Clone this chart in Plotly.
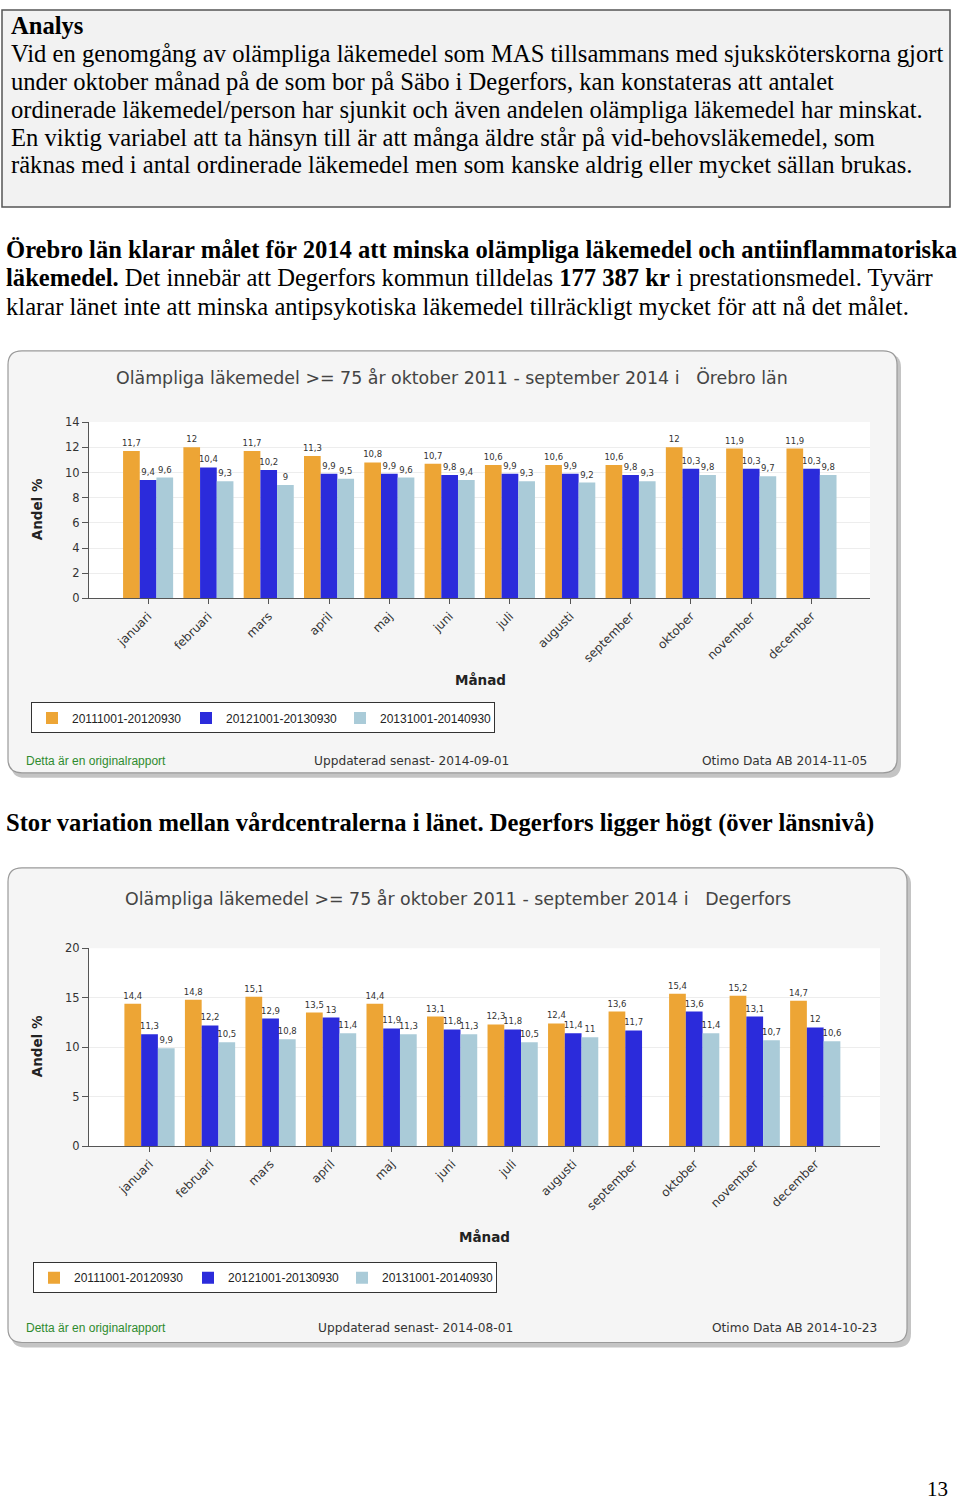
import plotly.graph_objects as go

# ---------------- data ----------------
months = ["januari", "februari", "mars", "april", "maj", "juni", "juli",
          "augusti", "september", "oktober", "november", "december"]
series_names = ["20111001-20120930", "20121001-20130930", "20131001-20140930"]

orebro_p1 = [11.7, 12, 11.7, 11.3, 10.8, 10.7, 10.6, 10.6, 10.6, 12, 11.9, 11.9]
orebro_p2 = [9.4, 10.4, 10.2, 9.9, 9.9, 9.8, 9.9, 9.9, 9.8, 10.3, 10.3, 10.3]
orebro_p3 = [9.6, 9.3, 9, 9.5, 9.6, 9.4, 9.3, 9.2, 9.3, 9.8, 9.7, 9.8]

degerfors_p1 = [14.4, 14.8, 15.1, 13.5, 14.4, 13.1, 12.3, 12.4, 13.6, 15.4, 15.2, 14.7]
degerfors_p2 = [11.3, 12.2, 12.9, 13, 11.9, 11.8, 11.8, 11.4, 11.7, 13.6, 13.1, 12]
degerfors_p3 = [9.9, 10.5, 10.8, 11.4, 11.3, 11.3, 10.5, 11, None, 11.4, 10.7, 10.6]

bar_colors = ["#EDA535", "#2B2BDB", "#AACBD8"]

W, H = 960, 1507
SERIF = "Liberation Serif, Times New Roman, serif"
CHART = "DejaVu Sans, Verdana, sans-serif"
ARIAL = "Liberation Sans, Arial, sans-serif"


def PX(x):
    return x / W


def PY(y):
    return 1 - y / H


def fmt(v):
    if v is None:
        return ""
    return ("%g" % v).replace(".", ",")


def rounded(x0, y0, x1, y1, r):
    rx, ry = r / W, r / H
    a, b, c, d = PX(x0), PY(y0), PX(x1), PY(y1)  # b top, d bottom
    return (f"M {a+rx},{b} L {c-rx},{b} Q {c},{b} {c},{b-ry} "
            f"L {c},{d+ry} Q {c},{d} {c-rx},{d} L {a+rx},{d} "
            f"Q {a},{d} {a},{d+ry} L {a},{b-ry} Q {a},{b} {a+rx},{b} Z")


fig = go.Figure()

chart_data = [
    ([orebro_p1, orebro_p2, orebro_p3], "legend", "x", "y"),
    ([degerfors_p1, degerfors_p2, degerfors_p3], "legend2", "x2", "y2"),
]
for series, leg, xa, ya in chart_data:
    for k, vals in enumerate(series):
        fig.add_trace(go.Bar(
            x=months, y=vals, name=series_names[k],
            marker=dict(color=bar_colors[k], line=dict(width=0)),
            text=[fmt(v) for v in vals], textposition="outside",
            textfont=dict(family=CHART, size=8.5, color="#333333"),
            constraintext="none", cliponaxis=False,
            xaxis=xa, yaxis=ya, legend=leg, hoverinfo="skip",
        ))

# ---------------- axes ----------------
common_x = dict(type="category", showline=True, linecolor="#555555", linewidth=1,
                ticks="outside", ticklen=5, tickcolor="#555555", tickangle=-45,
                tickfont=dict(family=CHART, size=12, color="#333333"),
                showgrid=False, fixedrange=True)
common_y = dict(showline=True, linecolor="#555555", linewidth=1,
                ticks="outside", ticklen=6, tickcolor="#555555",
                tickfont=dict(family=CHART, size=11.5, color="#333333"),
                showgrid=True, gridcolor="#EDEDED", zeroline=False, fixedrange=True)

fig.update_layout(
    xaxis=dict(common_x, domain=[PX(89), PX(870)], range=[-0.98, 11.97], anchor="y"),
    yaxis=dict(common_y, domain=[PY(597), PY(419)], range=[0, 14], dtick=2, anchor="x"),
    xaxis2=dict(common_x, domain=[PX(89), PX(880)], range=[-1.0, 12.07], anchor="y2"),
    yaxis2=dict(common_y, domain=[PY(1150), PY(950)], range=[0, 20], dtick=5, anchor="x2"),
)

# ---------------- legends ----------------
leg_common = dict(orientation="h", xanchor="left", yanchor="top", bgcolor="#FFFFFF",
                  bordercolor="#333333", borderwidth=1,
                  font=dict(family=ARIAL, size=12, color="#222222"),
                  entrywidth=109, entrywidthmode="pixels", itemclick=False,
                  itemdoubleclick=False)
fig.update_layout(
    legend=dict(leg_common, x=PX(31), y=PY(702)),
    legend2=dict(leg_common, x=PX(33), y=PY(1267)),
)

shapes = []
# Analys box
shapes.append(dict(type="rect", xref="paper", yref="paper", x0=PX(2), x1=PX(950),
                   y0=PY(202), y1=PY(3), fillcolor="#F2F2F2",
                   line=dict(color="#555555", width=1.5), layer="below"))
# chart panels (shadow + panel)
for (x0, y0, x1, y1) in [(8, 347, 897, 773), (8, 869, 907, 1348)]:
    shapes.append(dict(type="path", xref="paper", yref="paper",
                       path=rounded(x0 + 3, y0 + 3, x1 + 4, y1 + 5, 14),
                       fillcolor="#C4C4C4", line=dict(width=0), layer="below"))
    shapes.append(dict(type="path", xref="paper", yref="paper",
                       path=rounded(x0, y0, x1, y1, 14),
                       fillcolor="#F5F5F5", line=dict(color="#9A9A9A", width=1.2),
                       layer="below"))
# white plot areas
for xr, yr in [("x", "y"), ("x2", "y2")]:
    shapes.append(dict(type="rect", xref=f"{xr} domain", yref=f"{yr} domain",
                       x0=0, x1=1, y0=0, y1=1, fillcolor="#FFFFFF",
                       line=dict(width=0), layer="below"))

ann = []


def text(x, y, s, size, family=SERIF, color="#000000", xanchor="left", **kw):
    ann.append(dict(xref="paper", yref="paper", x=PX(x), y=PY(y), text=s,
                    showarrow=False, xanchor=xanchor, yanchor="middle",
                    font=dict(family=family, size=size, color=color), **kw))


BODY = 24.6
# page text
text(9, 19, "<b>Analys</b>", BODY)
analys_lines = [
    "Vid en genomgång av olämpliga läkemedel som MAS tillsammans med sjuksköterskorna gjort",
    "under oktober månad på de som bor på Säbo i Degerfors, kan konstateras att antalet",
    "ordinerade läkemedel/person har sjunkit och även andelen olämpliga läkemedel har minskat.",
    "En viktig variabel att ta hänsyn till är att många äldre står på vid-behovsläkemedel, som",
    "räknas med i antal ordinerade läkemedel men som kanske aldrig eller mycket sällan brukas.",
]
for i, line in enumerate(analys_lines):
    text(9, 47 + 28.1 * i, line, BODY)

para_lines = [
    "<b>Örebro län klarar målet för 2014 att minska olämpliga läkemedel och antiinflammatoriska</b>",
    "<b>läkemedel.</b> Det innebär att Degerfors kommun tilldelas <b>177 387 kr</b> i prestationsmedel. Tyvärr",
    "klarar länet inte att minska antipsykotiska läkemedel tillräckligt mycket för att nå det målet.",
]
for i, line in enumerate(para_lines):
    text(4, 245 + 28.5 * i, line, BODY)

text(4, 824, "<b>Stor variation mellan vårdcentralerna i länet. Degerfors ligger högt (över länsnivå)</b>", BODY)
text(937, 1496, "13", 21, xanchor="center")

# chart texts
chart_texts = [
    ("Olämpliga läkemedel >= 75 år oktober 2011 - september 2014 i   Örebro län",
     452, 374, 507, 480, 679, 761, "Uppdaterad senast- 2014-09-01", 312,
     "Otimo Data AB 2014-11-05", 869),
    ("Olämpliga läkemedel >= 75 år oktober 2011 - september 2014 i   Degerfors",
     458, 900, 1049, 484, 1242, 1333, "Uppdaterad senast- 2014-08-01", 316,
     "Otimo Data AB 2014-10-23", 879),
]
for (title, tx, ty, ay, mx, my, fy, upd, ux, oti, ox) in chart_texts:
    text(tx, ty, title, 17.4, family=CHART, color="#444444", xanchor="center")
    text(37, ay, "<b>Andel %</b>", 13.5, family=CHART, color="#222222",
         xanchor="center", textangle=-90)
    text(mx, my, "<b>Månad</b>", 13.5, family=CHART, color="#222222", xanchor="center")
    text(24, fy, "Detta är en originalrapport", 12, family=ARIAL, color="#2E8B2E")
    text(ux, fy, upd, 12.2, family=CHART, color="#333333")
    text(ox, fy, oti, 12.2, family=CHART, color="#333333", xanchor="right")

fig.update_layout(
    width=W, height=H, margin=dict(l=0, r=0, t=0, b=0),
    paper_bgcolor="#FFFFFF", plot_bgcolor="#FFFFFF",
    barmode="group", bargap=0.17, bargroupgap=0,
    shapes=shapes, annotations=ann, showlegend=True,
    font=dict(family=CHART),
)

fig.write_html(
    "out.html",
    config={"displayModeBar": False},
    post_script=(
        "document.documentElement.style.margin='0';"
        "document.documentElement.style.overflow='hidden';"
        "document.body.style.margin='0';document.body.style.padding='0';"
        "document.body.style.overflow='hidden';"
        "var gd=document.querySelector('.plotly-graph-div');"
        "gd.style.position='fixed';gd.style.left='0px';gd.style.top='0px';"
    ),
)
